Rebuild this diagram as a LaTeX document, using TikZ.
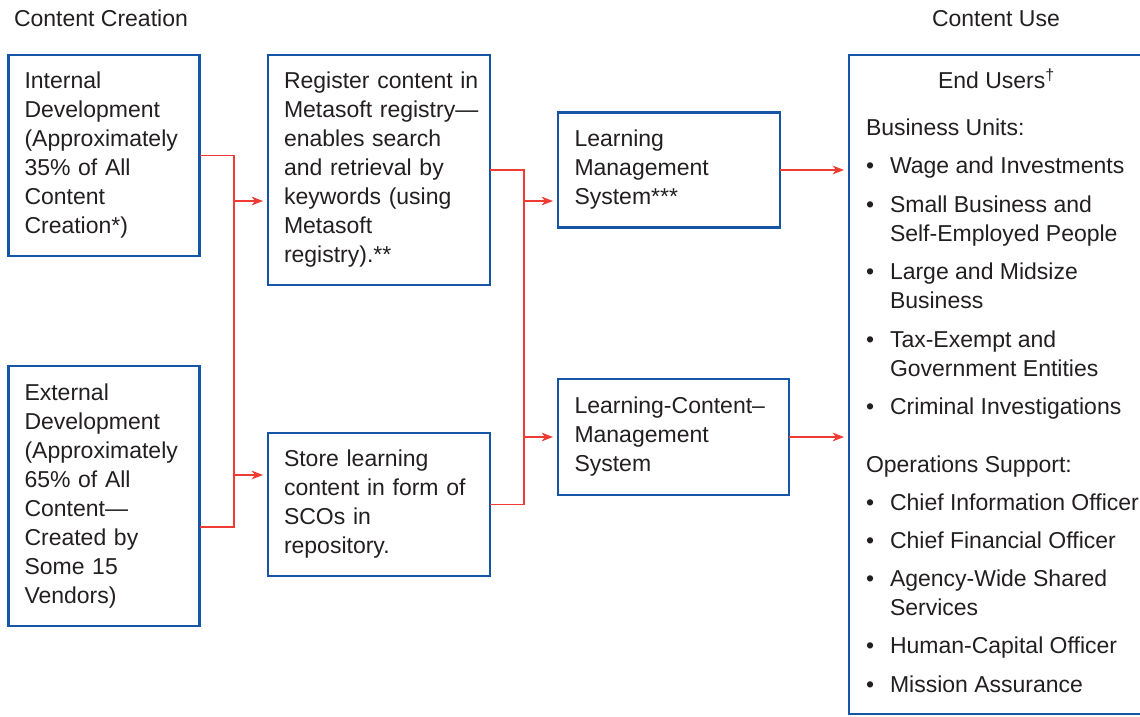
\documentclass[tikz,border=0pt]{standalone}
\usepackage{fontspec}
\setmainfont{Liberation Sans}
\usetikzlibrary{arrows.meta,calc}
\definecolor{boxblue}{RGB}{22,84,166}
\definecolor{connred}{RGB}{238,59,51}
\definecolor{ink}{RGB}{35,31,32}
\newcommand\oneline[1]{\mbox{#1}}
\begin{document}
\begin{tikzpicture}[x=0.75pt,y=-0.75pt,
  every node/.style={font=\fontsize{17.25pt}{21.75pt}\selectfont, text=ink, inner sep=0pt, outer sep=0pt},
  box/.style={draw=boxblue, line width=2pt, rectangle, align=left},
  conn/.style={draw=connred, line width=0.9pt},
  arr/.style={conn, -{Stealth[length=8.5pt,width=6.5pt,inset=2.5pt]}, shorten >=3.75pt},
  lbl/.style={anchor=base west}
]
\useasboundingbox (0,0) rectangle (1140,717);
\clip (0,0) rectangle (1140,717);

% headings
\node[lbl] (hcre) at (14,27) {Content Creation};
\node[lbl] (huse) at (932,27) {Content Use};

% boxes
\node[box, minimum width=143.25pt, minimum height=150.75pt, text width=119.25pt] (int) at (104,155.5)
  {\oneline{Internal}\\\oneline{Development}\\\oneline{(Approximately}\\\oneline{35\% of All}\\\oneline{Content}\\\oneline{Creation*)}};
\node[box, minimum width=143.25pt, minimum height=195pt, text width=119.25pt] (ext) at (104,496)
  {\oneline{External}\\\oneline{Development}\\\oneline{(Approximately}\\\oneline{65\% of All}\\\oneline{Content—}\\\oneline{Created by}\\\oneline{Some 15}\\\oneline{Vendors)}};
\node[box, minimum width=166.5pt, minimum height=172.5pt, text width=142.5pt] (reg) at (379,170)
  {\oneline{Register content in}\\\oneline{Metasoft registry—}\\\oneline{enables search}\\\oneline{and retrieval by}\\\oneline{keywords (using}\\\oneline{Metasoft}\\\oneline{registry).**}};
\node[box, minimum width=166.5pt, minimum height=107.25pt, text width=142.5pt] (sto) at (379,504.5)
  {\oneline{Store learning}\\\oneline{content in form of}\\\oneline{SCOs in}\\\oneline{repository.}};
\node[box, minimum width=166.5pt, minimum height=86.25pt, text width=141.75pt] (lms) at (669,170)
  {\oneline{Learning}\\\oneline{Management}\\\oneline{System***}};
\node[box, minimum width=173.25pt, minimum height=87pt, text width=148.5pt] (lcms) at (673.5,437)
  {\oneline{Learning-Content–}\\\oneline{Management}\\\oneline{System}};
\node[box, minimum width=225.75pt, minimum height=494.25pt] (eu) at (999.5,384.5) {};

% end users text
\node[lbl] (eut) at (938,89) {End Users\textsuperscript{†}};
\node[lbl] (bu) at (866,136) {Business Units:};
\node[lbl] (b1) at (866,174) {•}; \node[lbl] (t1) at (890,174) {Wage and Investments};
\node[lbl] (b2) at (866,212) {•}; \node[lbl] (t2) at (890,212) {Small Business and};
\node[lbl] (t2b) at (890,241) {Self-Employed People};
\node[lbl] (b3) at (866,279) {•}; \node[lbl] (t3) at (890,279) {Large and Midsize};
\node[lbl] (t3b) at (890,308) {Business};
\node[lbl] (b4) at (866,347) {•}; \node[lbl] (t4) at (890,347) {Tax-Exempt and};
\node[lbl] (t4b) at (890,376) {Government Entities};
\node[lbl] (b5) at (866,414) {•}; \node[lbl] (t5) at (890,414) {Criminal Investigations};
\node[lbl] (os) at (866,472) {Operations Support:};
\node[lbl] (b6) at (866,510) {•}; \node[lbl] (t6) at (890,510) {Chief Information Officer};
\node[lbl] (b7) at (866,548) {•}; \node[lbl] (t7) at (890,548) {Chief Financial Officer};
\node[lbl] (b8) at (866,586) {•}; \node[lbl] (t8) at (890,586) {Agency-Wide Shared};
\node[lbl] (t8b) at (890,615) {Services};
\node[lbl] (b9) at (866,653) {•}; \node[lbl] (t9) at (890,653) {Human-Capital Officer};
\node[lbl] (b10) at (866,692) {•}; \node[lbl] (t10) at (890,692) {Mission Assurance};

% connectors
\coordinate (jl) at (234,0);
\coordinate (jr) at (524,0);
\coordinate (al1) at (234,201);
\coordinate (al2) at (234,475);
\coordinate (ar1) at (524,201);
\draw[conn] (int.east) -- (int.east -| jl) |- ($(ext.east)+(0,31)$);
\draw[arr] (al1) -- (al1 -| reg.west);
\draw[arr] (al2) -- (al2 -| sto.west);
\draw[conn] (reg.east) -- (reg.east -| jr) |- (sto.east);
\draw[arr] (ar1) -- (ar1 -| lms.west);
\draw[arr] (lcms.west -| jr) -- (lcms.west);
\draw[arr] (lms.east) -- (lms.east -| eu.west);
\draw[arr] (lcms.east) -- (lcms.east -| eu.west);
\end{tikzpicture}
\end{document}
